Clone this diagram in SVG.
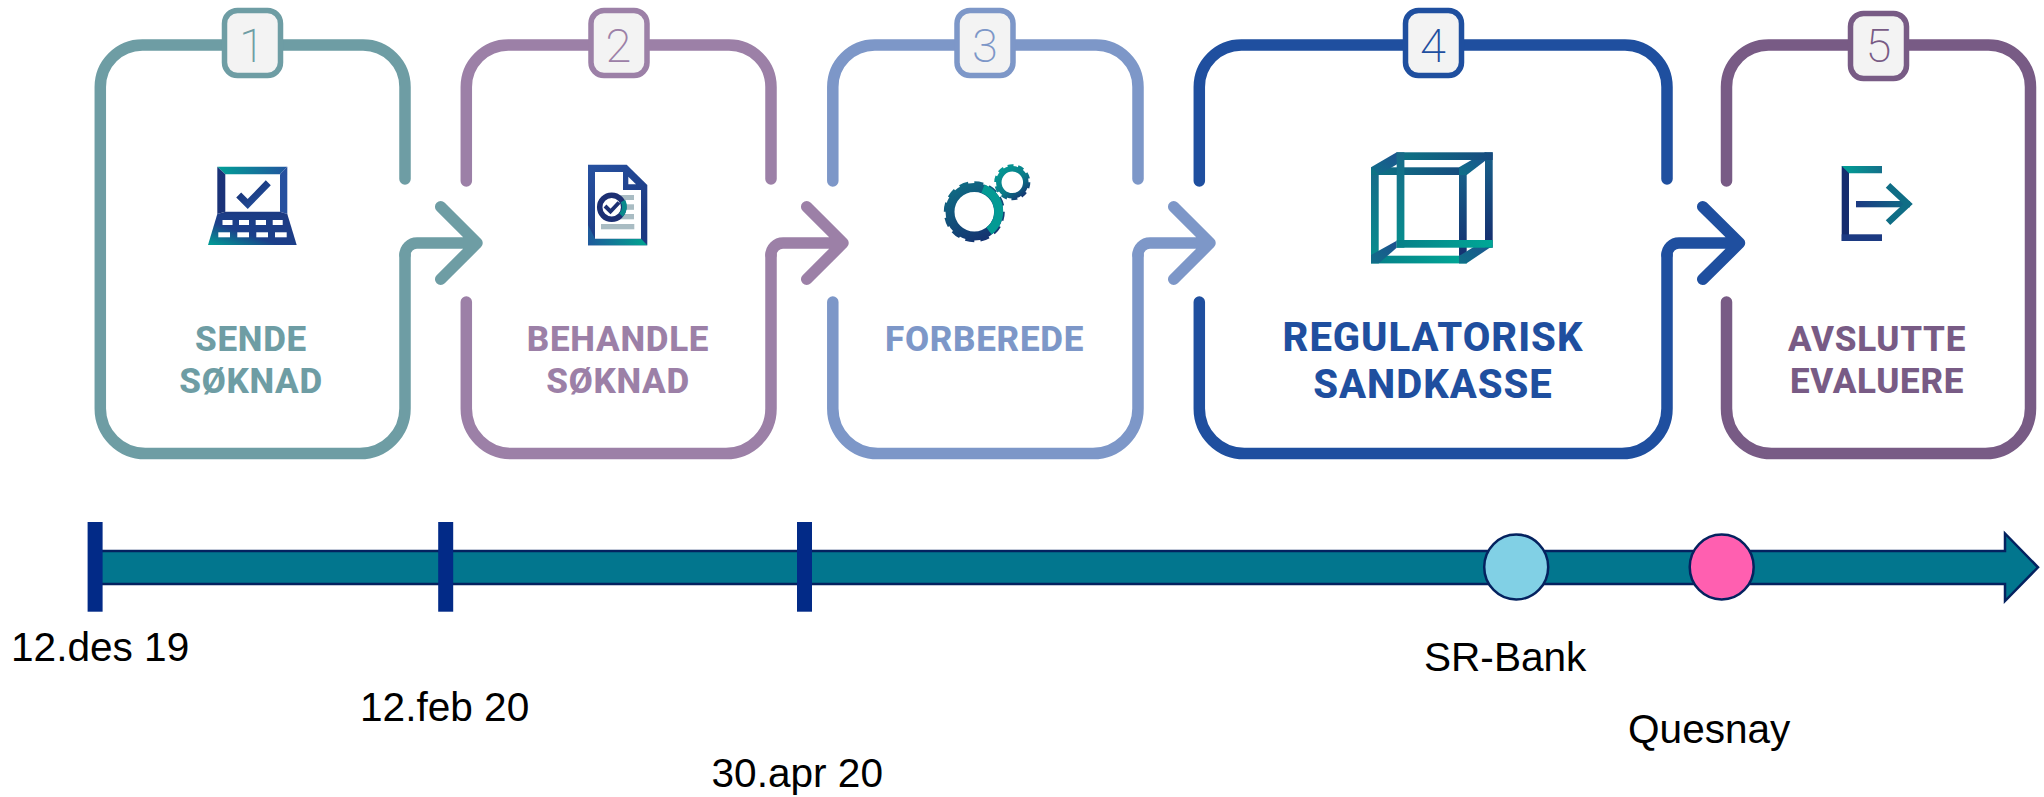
<svg xmlns="http://www.w3.org/2000/svg" width="2044" height="797" viewBox="0 0 2044 797">
<style>
.o{fill:none;stroke-width:11.500;stroke-linecap:round;stroke-linejoin:round}
.b{fill:#f3f3f3;stroke-width:5.500}
.n{font-family:Roboto,"Liberation Sans",sans-serif;font-weight:200;font-size:47px;text-anchor:middle}
.l{font-family:Roboto,"Liberation Sans",sans-serif;font-weight:800;font-size:35px;text-anchor:middle;letter-spacing:.7px}
.l4{font-size:40px;letter-spacing:1px}
.t{font-family:"Liberation Sans",Arial,sans-serif;font-size:40.600px;fill:#000}
.c1{stroke:#6e9da4}.f1{fill:#6e9da4}
.c2{stroke:#9c80a7}.f2{fill:#9c80a7}
.c3{stroke:#7d97c8}.f3{fill:#7d97c8}
.c4{stroke:#1f4f9f}.f4{fill:#1f4f9f}
.c5{stroke:#785b85}.f5{fill:#785b85}
.tick{fill:#022a87}
</style>
<defs>
<linearGradient id="tealBlue" x1="0" y1="0" x2="1" y2="0"><stop offset="0" stop-color="#00a096"/><stop offset="1" stop-color="#22559f"/></linearGradient>
<linearGradient id="navyBlue" x1="0" y1="0" x2="1" y2="1"><stop offset="0" stop-color="#152c6e"/><stop offset="1" stop-color="#2553a1"/></linearGradient>
<linearGradient id="keys" x1="0" y1="1" x2="1" y2="0"><stop offset="0" stop-color="#00a096"/><stop offset=".4" stop-color="#1c3f8a"/><stop offset="1" stop-color="#1c3a82"/></linearGradient>
<linearGradient id="docG" gradientUnits="userSpaceOnUse" x1="590" y1="170" x2="648" y2="245"><stop offset="0" stop-color="#26509f"/><stop offset=".7" stop-color="#1c3a82"/><stop offset="1" stop-color="#1c3a82"/></linearGradient>
<linearGradient id="docB" x1="0" y1="0" x2="1" y2="0"><stop offset="0" stop-color="#1f5a9c"/><stop offset="1" stop-color="#00a58f"/></linearGradient>
<linearGradient id="gearL" gradientUnits="userSpaceOnUse" x1="955" y1="180" x2="990" y2="245"><stop offset="0" stop-color="#0f7085"/><stop offset="1" stop-color="#152c6e"/></linearGradient>
<linearGradient id="gearS" gradientUnits="userSpaceOnUse" x1="1000" y1="168" x2="1025" y2="198"><stop offset="0" stop-color="#049a94"/><stop offset=".55" stop-color="#0a7a88"/><stop offset="1" stop-color="#152c6e"/></linearGradient>
<linearGradient id="cV1" x1="0" y1="0" x2="0" y2="1"><stop offset="0" stop-color="#176a88"/><stop offset="1" stop-color="#068f8e"/></linearGradient>
<linearGradient id="cV2" x1="0" y1="0" x2="0" y2="1"><stop offset="0" stop-color="#17628a"/><stop offset="1" stop-color="#152c6e"/></linearGradient>
<linearGradient id="cH1" x1="0" y1="0" x2="1" y2="0"><stop offset="0" stop-color="#0d7484"/><stop offset="1" stop-color="#174a7e"/></linearGradient>
<linearGradient id="cH2" x1="0" y1="0" x2="1" y2="0"><stop offset="0" stop-color="#067f88"/><stop offset="1" stop-color="#00a896"/></linearGradient>
<linearGradient id="cD" x1="0" y1="1" x2="1" y2="0"><stop offset="0" stop-color="#0e7088"/><stop offset="1" stop-color="#1f4f8f"/></linearGradient>
<linearGradient id="exitA" x1="0" y1="0" x2="1" y2="0"><stop offset="0" stop-color="#1c3a82"/><stop offset="1" stop-color="#0f6d85"/></linearGradient>
<linearGradient id="exitT" x1="0" y1="0" x2="1" y2="0"><stop offset="0" stop-color="#00a096"/><stop offset="1" stop-color="#14708a"/></linearGradient>
</defs>

<g id="connectors">
<path class="o c1" d="M405,255 A12,12 0 0 1 417,243 H477 M440.700,206.700 L477,243 L440.700,279.300"/>
<path class="o c2" d="M771,255 A12,12 0 0 1 783,243 H843 M806.700,206.700 L843,243 L806.700,279.300"/>
<path class="o c3" d="M1138,255 A12,12 0 0 1 1150,243 H1210 M1173.700,206.700 L1210,243 L1173.700,279.300"/>
<path class="o c4" d="M1667,255 A12,12 0 0 1 1679,243 H1739.500 M1702.700,206.700 L1739.500,243 L1702.700,279.300"/>
</g>

<g id="step1">
<path class="o c1" d="M405,179 V87 A42,42 0 0 0 363,45 H142.300 A42,42 0 0 0 100.300,87 V408.500 A45,45 0 0 0 145.300,453.500 H360 A45,45 0 0 0 405,408.500 V255"/>
<rect class="b c1" x="224.500" y="10.500" width="56" height="65" rx="13"/>
<text class="n f1" x="252" y="62">1</text>
<g id="icon1">
<polygon points="217.300,166.700 287.300,166.700 280,174.300 225.300,174.300" fill="url(#tealBlue)"/>
<polygon points="217.300,166.700 225.300,174.300 225.300,211.700 217.300,214" fill="#1a3278"/>
<polygon points="287.300,166.700 287.300,214 280,211.700 280,174.300" fill="#26509f"/>
<polygon points="217.300,214 225.300,211.700 280,211.700 287.300,214" fill="#1c3a82"/>
<polygon points="217.300,214 287.300,214 296.700,245 208,245" fill="url(#keys)"/>
<g fill="#fff"><rect x="222.500" y="220" width="10" height="5"/><rect x="239" y="220" width="10" height="5"/><rect x="255.700" y="220" width="10.300" height="5"/><rect x="272.700" y="220" width="10" height="5"/><rect x="218.300" y="232.300" width="11.700" height="5"/><rect x="237.300" y="232.300" width="11.700" height="5"/><rect x="256.300" y="232.300" width="11.700" height="5"/><rect x="275" y="232.300" width="11.700" height="5"/></g>
<polyline points="238.700,195 247.700,204 268.300,182.700" fill="none" stroke="url(#navyBlue)" stroke-width="7"/>
</g>
<text class="l f1"><tspan x="251" y="350.500">SENDE</tspan><tspan x="251" y="393">SØKNAD</tspan></text>
</g>

<g id="step2">
<path class="o c2" d="M771,179 V87 A42,42 0 0 0 729,45 H508.300 A42,42 0 0 0 466.300,87 V181"/>
<path class="o c2" d="M466.300,302 V408.500 A45,45 0 0 0 511.300,453.500 H726 A45,45 0 0 0 771,408.500 V255"/>
<rect class="b c2" x="591" y="10.500" width="56" height="65" rx="13"/>
<text class="n f2" x="618.500" y="62">2</text>
<g id="icon2">
<polygon points="588,164.700 626.700,164.700 647.300,185 647.300,245.300 588,245.300" fill="url(#docG)"/>
<polygon points="588,225 595,238.700 641,238.700 647.300,245.300 588,245.300" fill="url(#docB)"/>
<polygon points="595,172 623,172 623,190 641,190 641,238.700 595,238.700" fill="#fff"/>
<polygon points="628.300,176.700 636,184.300 628.300,184.300" fill="#fff"/>
<g fill="#a9bcc3"><rect x="620" y="195" width="14" height="5"/><rect x="620" y="204.300" width="14" height="5.500"/><rect x="620" y="214" width="14" height="5.300"/><rect x="601" y="224" width="33.300" height="5.300"/></g>
<circle cx="611.700" cy="207.300" r="12" fill="#fff" stroke="#1c2f72" stroke-width="5.500"/>
<path d="M623,201 A12,12 0 0 1 621,215" fill="none" stroke="#0a8a8c" stroke-width="5"/>
<polyline points="605,206 610.500,211.500 619,202.500" fill="none" stroke="#1c2f72" stroke-width="4"/>
</g>
<text class="l f2"><tspan x="618" y="350.500">BEHANDLE</tspan><tspan x="618" y="393">SØKNAD</tspan></text>
</g>

<g id="step3">
<path class="o c3" d="M1138,179 V87 A42,42 0 0 0 1096,45 H874.800 A42,42 0 0 0 832.800,87 V181"/>
<path class="o c3" d="M832.800,302 V408.500 A45,45 0 0 0 877.800,453.500 H1093 A45,45 0 0 0 1138,408.500 V255"/>
<rect class="b c3" x="957" y="10.500" width="56" height="65" rx="13"/>
<text class="n f3" x="985" y="62">3</text>
<g id="icon3">
<circle cx="974.300" cy="211.700" r="24.300" fill="none" stroke="url(#gearL)" stroke-width="9"/>
<circle cx="974.300" cy="211.700" r="28.500" fill="none" stroke="url(#gearL)" stroke-width="4" stroke-dasharray="8.900 6"/>
<path d="M983,188.600 A24.500,24.500 0 0 1 989,231" fill="none" stroke="#049a94" stroke-width="9"/>
<circle cx="1012.300" cy="182.300" r="13.500" fill="none" stroke="url(#gearS)" stroke-width="5.500"/>
<circle cx="1012.300" cy="182.300" r="16.300" fill="none" stroke="url(#gearS)" stroke-width="3.500" stroke-dasharray="5.800 4.450"/>
</g>
<text class="l f3" x="984.500" y="350.500">FORBEREDE</text>
</g>

<g id="step4">
<path class="o c4" d="M1667,179 V87 A42,42 0 0 0 1625,45 H1241.300 A42,42 0 0 0 1199.300,87 V181"/>
<path class="o c4" d="M1199.300,302 V408.500 A45,45 0 0 0 1244.300,453.500 H1622 A45,45 0 0 0 1667,408.500 V255"/>
<rect class="b c4" x="1405.500" y="10.500" width="56" height="65" rx="13"/>
<text class="n f4" x="1433" y="62">4</text>
<g id="icon4">
<rect x="1371" y="167.300" width="7.700" height="96" fill="url(#cV1)"/>
<rect x="1459" y="167.300" width="7.700" height="96" fill="url(#cV2)"/>
<rect x="1371" y="167.300" width="95.700" height="7.700" fill="url(#cH1)"/>
<rect x="1371" y="255.700" width="95.700" height="7.700" fill="url(#cH2)"/>
<polygon points="1371,167.300 1396.700,152.300 1404.300,160 1378.700,175" fill="url(#cD)"/>
<polygon points="1459,167.300 1485,152.300 1492.700,155 1466.700,175 1459,175" fill="url(#cD)"/>
<polygon points="1371,263.300 1371,255 1396.700,240.700 1396.700,247.700 1379,263.300" fill="url(#cD)"/>
<polygon points="1459,256 1485,240 1492.700,245.700 1466.700,263.300 1459,263.300" fill="url(#cD)"/>
<rect x="1485" y="152.300" width="7.700" height="95.400" fill="url(#cV2)"/>
<rect x="1396.700" y="152.300" width="96" height="7.700" fill="url(#cH1)"/>
<rect x="1396.700" y="152.300" width="7.700" height="95.400" fill="url(#cV1)"/>
<rect x="1396.700" y="240" width="96" height="7.700" fill="url(#cH2)"/>
</g>
<text class="l l4 f4"><tspan x="1433" y="350.500">REGULATORISK</tspan><tspan x="1433" y="398">SANDKASSE</tspan></text>
</g>

<g id="step5">
<path class="o c5" d="M1726.500,181 V87 A42,42 0 0 1 1768.500,45 H1988.500 A42,42 0 0 1 2030.500,87 V408.500 A45,45 0 0 1 1985.500,453.500 H1771.500 A45,45 0 0 1 1726.500,408.500 V302"/>
<rect class="b c5" x="1850.500" y="13.500" width="56" height="65" rx="13"/>
<text class="n f5" x="1878.500" y="62">5</text>
<g id="icon5">
<rect x="1841.700" y="166" width="7.300" height="75" fill="#152c6e"/>
<polygon points="1841.700,166 1882,166 1882,173.300 1849,173.300" fill="url(#exitT)"/>
<rect x="1841.700" y="234.300" width="40.300" height="6.700" fill="#1c3a82"/>
<rect x="1856" y="201" width="54" height="6.300" fill="url(#exitA)"/>
<polyline points="1888,185.300 1908,204 1888,222.700" fill="none" stroke="#0f6d85" stroke-width="6.500"/>
</g>
<text class="l f5"><tspan x="1877" y="350.500">AVSLUTTE</tspan><tspan x="1877" y="393">EVALUERE</tspan></text>
</g>

<g id="timeline">
<polygon points="95,551 2005,551 2005,533.500 2038,567.300 2005,601 2005,584 95,584" fill="#02768e" stroke="#04225f" stroke-width="2.500"/>
<rect class="tick" x="87.600" y="522" width="15" height="89.700"/>
<rect class="tick" x="438.200" y="522" width="15" height="89.700"/>
<rect class="tick" x="797" y="522" width="15" height="89.700"/>
<ellipse id="srbank-marker" cx="1516.200" cy="567" rx="32" ry="32.500" fill="#81d0e5" stroke="#04225f" stroke-width="2.500"/>
<ellipse id="quesnay-marker" cx="1721.700" cy="567" rx="32" ry="32.500" fill="#ff5fb0" stroke="#04225f" stroke-width="2.500"/>
<text class="t" x="11" y="660.500">12.des 19</text>
<text class="t" x="360" y="720.500">12.feb 20</text>
<text class="t" x="711.500" y="787">30.apr 20</text>
<text class="t" x="1424" y="670.500">SR-Bank</text>
<text class="t" x="1628" y="742.500">Quesnay</text>
</g>
</svg>
